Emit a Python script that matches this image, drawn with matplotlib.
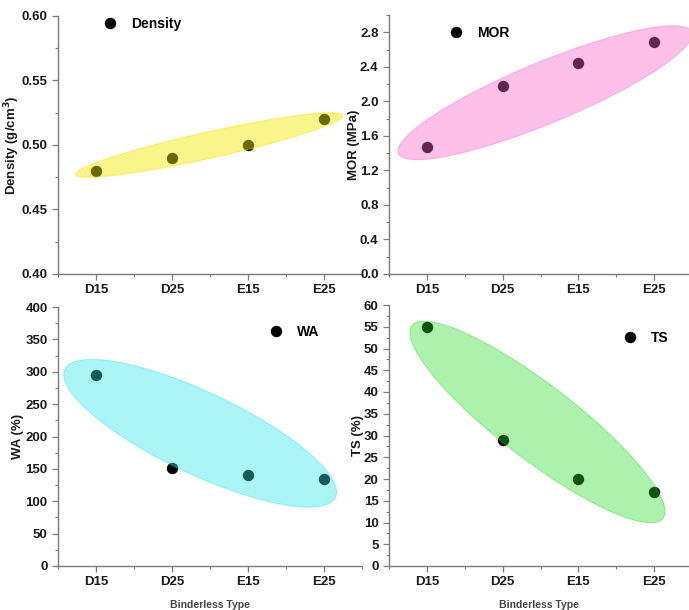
"""Four-panel scatter of board properties by binderless type, with highlight ellipses."""

import matplotlib
matplotlib.use("Agg")
import matplotlib.pyplot as plt
import matplotlib.transforms as mtransforms
from matplotlib.patches import Ellipse
from matplotlib.ticker import MultipleLocator

plt.rcParams["font.family"] = ["Liberation Sans", "DejaVu Sans"]
plt.rcParams["font.weight"] = "bold"

BINDERLESS_TYPES = ["D15", "D25", "E15", "E25"]
DENSITY = [0.48, 0.49, 0.50, 0.52]
MOR = [1.47, 2.18, 2.44, 2.69]
WA = [295, 152, 140, 135]
TS = [55, 29, 20, 17]

W, H = 689, 610
SPINE = "#7a7a7a"
TEXT = "#1a1a1a"


def px_rect(left, right, top, bottom):
    """Axes rectangle from pixel edges (y measured from top)."""
    return [left / W, (H - bottom) / H, (right - left) / W, (bottom - top) / H]


def highlight(ax, fig, center, a_px, b_px, angle, color, alpha):
    """Translucent ellipse centred on a data point, sized in pixels."""
    trans = fig.dpi_scale_trans + mtransforms.ScaledTranslation(
        center[0], center[1], ax.transData
    )
    ell = Ellipse((0, 0), 2 * a_px / fig.dpi, 2 * b_px / fig.dpi, angle=angle,
                  transform=trans, facecolor=color, alpha=alpha,
                  edgecolor=color, linewidth=0.8, zorder=5)
    ax.add_patch(ell)


def style_axis(ax, xlim, ylim, major, minor, fmt, ylabel, labelpad,
               xlabel=None):
    ax.set_xlim(*xlim)
    ax.set_ylim(*ylim)
    ax.set_xticks(range(1, len(BINDERLESS_TYPES) + 1))
    ax.set_xticklabels(BINDERLESS_TYPES)
    ax.xaxis.set_minor_locator(MultipleLocator(0.5))
    ax.yaxis.set_major_locator(MultipleLocator(major))
    ax.yaxis.set_minor_locator(MultipleLocator(minor))
    ax.yaxis.set_major_formatter(fmt)
    for side in ("top", "right"):
        ax.spines[side].set_visible(False)
    for side in ("left", "bottom"):
        ax.spines[side].set_color(SPINE)
        ax.spines[side].set_linewidth(1.0)
    ax.tick_params(which="major", direction="out", length=4, width=0.9,
                   color=SPINE, labelsize=9.5, labelcolor=TEXT)
    ax.tick_params(which="minor", direction="out", length=2.5, width=0.8,
                   color=SPINE)
    ax.set_ylabel(ylabel, fontsize=9.5, fontweight="bold", color=TEXT,
                  labelpad=labelpad)
    if xlabel:
        ax.set_xlabel(xlabel, fontsize=7.5, fontweight="bold",
                      color="#444444", labelpad=8)
    for lab in ax.get_xticklabels() + ax.get_yticklabels():
        lab.set_fontweight("bold")


def scatter(ax, values, label, anchor):
    xs = range(1, len(values) + 1)
    ax.plot(xs, values, "o", color="black", markersize=7.2, label=label,
            zorder=3, clip_on=False)
    ax.legend(loc="center left", bbox_to_anchor=anchor, frameon=False,
              borderpad=0, borderaxespad=0, handlelength=1.0,
              handletextpad=1.0, prop={"size": 10, "weight": "bold"})


fig = plt.figure(figsize=(W / 100, H / 100), dpi=100)

ax1 = fig.add_axes(px_rect(58, 362, 16, 274))
ax2 = fig.add_axes(px_rect(389, 689, 15, 274))
ax3 = fig.add_axes(px_rect(58, 362, 307, 566))
ax4 = fig.add_axes(px_rect(389, 689, 305, 566))

style_axis(ax1, (0.5, 4.5), (0.40, 0.60), 0.05, 0.025, "{x:.2f}",
           "Density (g/cm$^\\mathbf{3}$)", 0.0)
style_axis(ax2, (0.5, 4.46), (0.0, 3.0), 0.4, 0.2, "{x:.1f}", "MOR (MPa)",
           0.0)
style_axis(ax3, (0.5, 4.5), (0, 400), 50, 25, "{x:.0f}", "WA (%)", 1.0,
           "Binderless Type")
style_axis(ax4, (0.5, 4.46), (0, 60), 5, 2.5, "{x:.0f}", "TS (%)", 0.0,
           "Binderless Type")

scatter(ax1, DENSITY, "Density", (0.148, 0.969))
scatter(ax2, MOR, "MOR", (0.20, 0.931))
scatter(ax3, WA, "WA", (0.694, 0.903))
scatter(ax4, TS, "TS", (0.78, 0.874))

highlight(ax1, fig, (2.49, 0.50), 136.7, 13.2, 12.5, "#f5e800", 0.45)
highlight(ax2, fig, (2.56, 2.10), 158.6, 30.6, 22.5, "#fa64c8", 0.40)
highlight(ax3, fig, (2.37, 205), 149.7, 41.0, -25.3, "#30e6eb", 0.40)
highlight(ax4, fig, (2.46, 33.1), 158.2, 37.6, -37.5, "#28dc28", 0.38)

fig.savefig("out.png", dpi=100)
